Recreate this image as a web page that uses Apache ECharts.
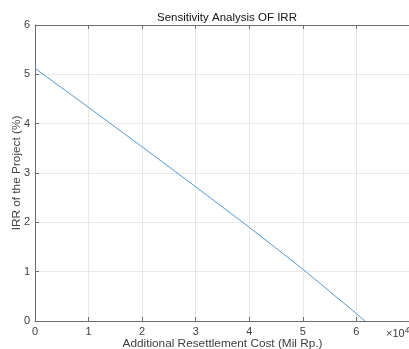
<!DOCTYPE html>
<html><head><meta charset="utf-8">
<script src="https://cdn.jsdelivr.net/npm/echarts@6/dist/echarts.min.js"></script>
<style>html,body{margin:0;padding:0;background:#fff}#c{width:409px;height:349px}</style>
</head><body><div id="c"></div>
<script>
var costs = [0, 10000, 20000, 30000, 40000, 50000, 60000, 61600];
var irr = [5.12, 4.33, 3.53, 2.72, 1.90, 1.05, 0.15, 0.0];
var xTicks = ['0','1','2','3','4','5','6','7'];
var yTicks = ['0','1','2','3','4','5','6'];

var font = 'Liberation Sans, Arial, sans-serif';
var txt = '#404040';
var axCol = '#6e6e6e';
var chart = echarts.init(document.getElementById('c'));
var axisLine = {show: true, lineStyle: {color: axCol, width: 1}};
var axisTick = {show: true, inside: true, length: 4, lineStyle: {color: axCol}};
chart.setOption({
  animation: false,
  title: {text: 'Sensitivity Analysis OF IRR', left: 222, top: 7, textAlign: 'center',
    textStyle: {fontFamily: font, fontSize: 11.5, fontWeight: 'normal', color: '#111'}},
  grid: {left: 35, top: 25, width: 375, height: 296, outerBoundsMode: 'none', containLabel: false},
  xAxis: [{
    type: 'value', min: 0, max: 70000, interval: 10000, position: 'bottom',
    name: 'Additional Resettlement Cost (Mil Rp.)', nameLocation: 'middle', nameGap: 17,
    nameMoveOverlap: false,
    nameTextStyle: {fontFamily: font, fontSize: 11.8, color: txt},
    axisLine: axisLine, axisTick: axisTick,
    axisLabel: {fontFamily: font, fontSize: 11, color: txt, margin: 5,
      formatter: function (v) { return xTicks[Math.round(v / 10000)]; }},
    splitLine: {show: true, lineStyle: {color: '#e8e8e8', width: 1}}
  }, {
    type: 'value', min: 0, max: 70000, interval: 10000, position: 'top',
    axisLine: axisLine, axisTick: axisTick,
    axisLabel: {show: false}, splitLine: {show: false}
  }],
  yAxis: [{
    type: 'value', min: 0, max: 6, interval: 1,
    name: 'IRR of the Project (%)', nameLocation: 'middle', nameGap: 12,
    nameMoveOverlap: false,
    nameTextStyle: {fontFamily: font, fontSize: 11.8, color: txt},
    axisLine: axisLine, axisTick: axisTick,
    axisLabel: {fontFamily: font, fontSize: 11, color: txt, margin: 5,
      formatter: function (v) { return yTicks[Math.round(v)]; }},
    splitLine: {show: true, lineStyle: {color: '#e8e8e8', width: 1}}
  }],
  graphic: [{
    type: 'text', left: 386, top: 327,
    style: {text: '{a|×10}{b|4}', rich: {
      a: {fontFamily: font, fontSize: 11, fill: txt},
      b: {fontFamily: font, fontSize: 8, fill: txt, verticalAlign: 'top', padding: [0,0,6,0]}
    }}
  }],
  series: [{
    type: 'line', data: costs.map(function (c, i) { return [c, irr[i]]; }),
    showSymbol: false, symbol: 'none', clip: true,
    lineStyle: {color: '#3d8fd1', width: 0.9}
  }]
});
</script></body></html>
